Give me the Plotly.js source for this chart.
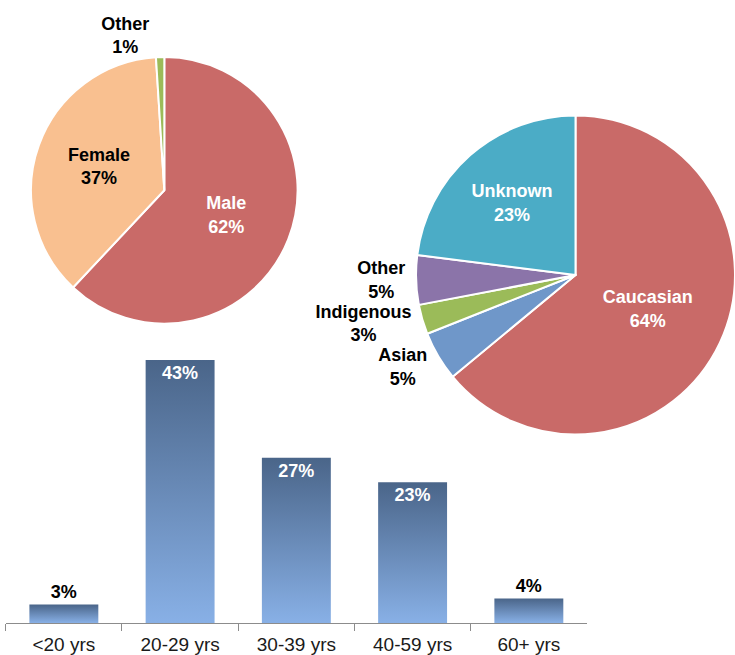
<!DOCTYPE html>
<html>
<head>
<meta charset="utf-8">
<script src="https://cdn.plot.ly/plotly-3.0.1.min.js"></script>
<style>
html,body{margin:0;padding:0;background:#fff;}
#chart{width:735px;height:655px;}
.pielayer path.textline{display:none;}
</style>
</head>
<body>
<div id="chart"></div>
<script>
// Gender pie
var genderLabels = ['Male', 'Female', 'Other'];
var genderValues = [62, 37, 1];
// Ethnicity pie
var ethLabels = ['Caucasian', 'Asian', 'Indigenous', 'Other', 'Unknown'];
var ethValues = [64, 5, 3, 5, 23];
// Age bar chart
var ageCategories = ['<20 yrs', '20-29 yrs', '30-39 yrs', '40-59 yrs', '60+ yrs'];
var ageValues = [3, 43, 27, 23, 4];

var FONT = 'Liberation Sans, Arial, sans-serif';

var genderPie = {
  type: 'pie',
  labels: genderLabels,
  values: genderValues,
  sort: false,
  direction: 'clockwise',
  rotation: 0,
  domain: {x: [0.0422, 0.4049], y: [0.506, 0.913]},
  marker: {colors: ['#c96a68', '#f9c090', '#9bbb59'], line: {color: '#ffffff', width: 2}},
  texttemplate: '%{label}<br>%{value}%',
  textposition: ['inside', 'inside', 'outside'],
  insidetextorientation: 'horizontal',
  textfont: {family: FONT, size: 18, weight: 'bold', color: ['#ffffff', '#000000', '#000000']},
  hoverinfo: 'label+percent',
  showlegend: false
};

var ethPie = {
  type: 'pie',
  labels: ethLabels,
  values: ethValues,
  sort: false,
  direction: 'clockwise',
  rotation: 0,
  domain: {x: [0.566, 1.0], y: [0.3359, 0.8244]},
  marker: {colors: ['#c96a68', '#6f97c9', '#9bbb59', '#8b74a9', '#4bacc6'], line: {color: '#ffffff', width: 2}},
  texttemplate: '%{label}<br>%{value}%',
  textposition: ['inside', 'outside', 'outside', 'outside', 'inside'],
  insidetextorientation: 'horizontal',
  textfont: {family: FONT, size: 18, weight: 'bold', color: ['#ffffff', '#000000', '#000000', '#000000', '#ffffff']},
  hoverinfo: 'label+percent',
  showlegend: false
};

var ageBars = {
  type: 'bar',
  x: ageCategories,
  y: ageValues,
  xaxis: 'x',
  yaxis: 'y',
  marker: {color: '#6a8dbd', line: {width: 0}},
  text: ageValues.map(function (v) { return v + '%'; }),
  textposition: ageValues.map(function (v) { return v < 10 ? 'outside' : 'inside'; }),
  insidetextanchor: 'end',
  textangle: 0,
  constraintext: 'none',
  cliponaxis: false,
  textfont: {family: FONT, size: 18, weight: 'bold', color: ageValues.map(function (v) { return v < 10 ? '#000000' : '#ffffff'; })},
  showlegend: false
};

var layout = {
  width: 735,
  height: 655,
  margin: {l: 0, r: 0, t: 0, b: 0},
  paper_bgcolor: '#ffffff',
  plot_bgcolor: 'rgba(0,0,0,0)',
  font: {family: FONT, color: '#000000'},
  bargap: 0.407,
  xaxis: {
    domain: [0.0078, 0.7986],
    type: 'category',
    showline: true,
    linecolor: '#8c8c8c',
    linewidth: 1,
    ticks: 'outside',
    tickson: 'boundaries',
    ticklen: 7,
    tickcolor: '#8c8c8c',
    showgrid: false,
    zeroline: false,
    ticklabelstandoff: 4,
    tickfont: {family: FONT, size: 19, color: '#1a1a1a'},
    fixedrange: true
  },
  yaxis: {
    domain: [0.0489, 0.4504],
    range: [0, 43],
    visible: false,
    showgrid: false,
    zeroline: false,
    fixedrange: true
  },
  showlegend: false
};

Plotly.newPlot('chart', [ageBars, genderPie, ethPie], layout, {displayModeBar: false, staticPlot: true}).then(function (gd) {
  var svg = gd.querySelector('svg.main-svg');
  var ns = 'http://www.w3.org/2000/svg';
  var defs = svg.querySelector('defs') || svg.insertBefore(document.createElementNS(ns, 'defs'), svg.firstChild);
  var grad = document.createElementNS(ns, 'linearGradient');
  grad.setAttribute('id', 'barGrad');
  grad.setAttribute('x1', '0'); grad.setAttribute('y1', '0');
  grad.setAttribute('x2', '0'); grad.setAttribute('y2', '1');
  var s1 = document.createElementNS(ns, 'stop');
  s1.setAttribute('offset', '0'); s1.setAttribute('stop-color', '#4a6589');
  var s2 = document.createElementNS(ns, 'stop');
  s2.setAttribute('offset', '1'); s2.setAttribute('stop-color', '#88b0e6');
  grad.appendChild(s1); grad.appendChild(s2);
  defs.appendChild(grad);
  gd.querySelectorAll('.barlayer .point path').forEach(function (p) {
    p.style.fill = 'url(#barGrad)';
  });
});
</script>
</body>
</html>
